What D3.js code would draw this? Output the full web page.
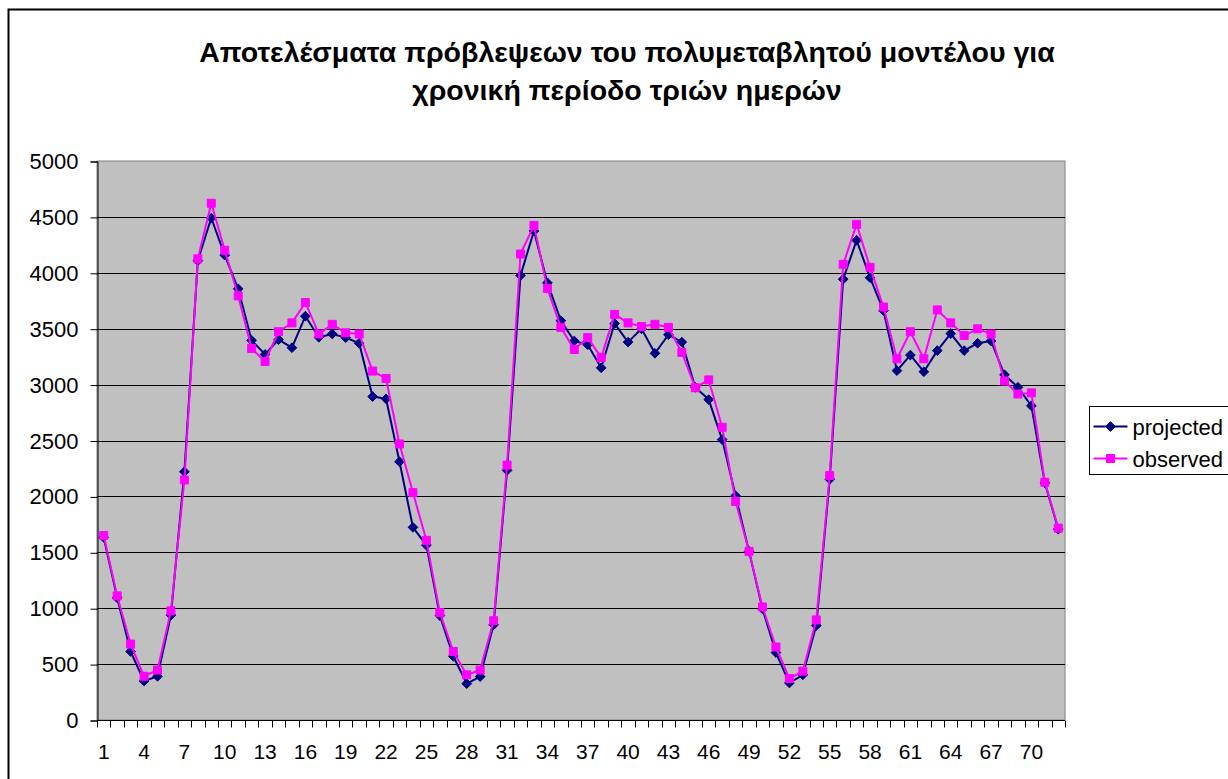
<!DOCTYPE html>
<html>
<head>
<meta charset="utf-8">
<script src="https://cdn.jsdelivr.net/npm/d3@7"></script>
<style>
  html, body { margin: 0; padding: 0; background: #ffffff; }
  svg { display: block; font-family: "Liberation Sans", Arial, sans-serif; }
</style>
</head>
<body>
<svg id="chart" width="1228" height="779"></svg>
<script>
// Forecast results of the multivariate model over three days (72 hourly steps)
const categories = d3.range(1, 73);

const projected = [
  1633, 1093, 613, 348, 391, 938, 2220, 4109, 4490, 4158,
  3857, 3396, 3270, 3403, 3330, 3612, 3423, 3453, 3420, 3370,
  2893, 2873, 2310, 1723, 1564, 934, 570, 325, 388, 852,
  2233, 3976, 4374, 3910, 3572, 3390, 3357, 3150, 3546, 3380,
  3499, 3280, 3446, 3380, 2976, 2866, 2508, 2005, 1508, 994,
  603, 331, 404, 845, 2154, 3943, 4291, 3956, 3661, 3125,
  3264, 3115, 3304, 3456, 3304, 3370, 3390, 3088, 2976, 2810,
  2121, 1707
];

const observed = [
  1650, 1110, 679, 391, 447, 977, 2147, 4125, 4622, 4202,
  3794, 3323, 3207, 3473, 3552, 3734, 3453, 3539, 3463, 3453,
  3121, 3055, 2469, 2034, 1607, 961, 613, 404, 447, 888,
  2280, 4168, 4424, 3860, 3512, 3314, 3420, 3241, 3628, 3552,
  3519, 3539, 3512, 3287, 2972, 3042, 2618, 1955, 1508, 1011,
  653, 371, 437, 895, 2187, 4076, 4433, 4049, 3694, 3231,
  3473, 3231, 3668, 3552, 3439, 3499, 3453, 3032, 2916, 2926,
  2127, 1716
];

const yTicks = [0, 500, 1000, 1500, 2000, 2500, 3000, 3500, 4000, 4500, 5000];
const xLabelEvery = 3;

const titleLines = [
  "Αποτελέσματα πρόβλεψεων του πολυμεταβλητού μοντέλου για",
  "χρονική περίοδο τριών ημερών"
];

const seriesList = [
  { name: "projected", values: projected, color: "#000080", marker: "diamond" },
  { name: "observed",  values: observed,  color: "#FF00FF", marker: "square" }
];

const svg = d3.select("#chart");
const plot = { left: 97, right: 1065, top: 161, bottom: 720 };

// outer chart frame
svg.append("rect")
  .attr("x", 8.5).attr("y", 9.5)
  .attr("width", 1240).attr("height", 800)
  .attr("fill", "#ffffff")
  .attr("stroke", "#000000").attr("stroke-width", 2);

// title
svg.append("g").selectAll("text")
  .data(titleLines)
  .join("text")
  .attr("x", 627)
  .attr("y", (d, i) => 62 + i * 38)
  .attr("text-anchor", "middle")
  .attr("font-size", 28.5)
  .attr("font-weight", "bold")
  .attr("fill", "#000000")
  .text(d => d);

const x = d3.scaleBand().domain(categories).range([plot.left, plot.right]).padding(0);
const y = d3.scaleLinear().domain([0, 5000]).range([plot.bottom, plot.top]);
const cx = d => x(d) + x.bandwidth() / 2;

// plot background
svg.append("rect")
  .attr("x", plot.left).attr("y", plot.top)
  .attr("width", plot.right - plot.left).attr("height", plot.bottom - plot.top)
  .attr("fill", "#C0C0C0")
  .attr("stroke", "#808080").attr("stroke-width", 1);

// horizontal gridlines
svg.append("g").selectAll("line")
  .data(yTicks.filter(t => t > 0 && t < 5000))
  .join("line")
  .attr("x1", plot.left).attr("x2", plot.right)
  .attr("y1", d => Math.round(y(d)) + 0.5).attr("y2", d => Math.round(y(d)) + 0.5)
  .attr("stroke", "#000000").attr("stroke-width", 1);

// y axis
const yAxis = d3.axisLeft(y).tickValues(yTicks).tickSize(7).tickPadding(12).tickFormat(d3.format("d"));
const gy = svg.append("g").attr("transform", `translate(${plot.left + 0.5},0.5)`).call(yAxis);
gy.select(".domain").attr("stroke", "#000000");
gy.selectAll(".tick line").attr("stroke", "#000000");
gy.selectAll(".tick text").attr("font-size", 22).attr("fill", "#000000")
  .attr("font-family", "'Liberation Sans', Arial, sans-serif");

// x axis: ticks at category boundaries, labels on every third category
const gx = svg.append("g").attr("transform", `translate(0,${plot.bottom + 0.5})`);
gx.append("line")
  .attr("x1", plot.left).attr("x2", plot.right)
  .attr("stroke", "#000000").attr("stroke-width", 1);
const boundaries = categories.map(c => x(c)).concat([x(categories[categories.length - 1]) + x.bandwidth()]);
gx.selectAll("line.tick")
  .data(boundaries)
  .join("line")
  .attr("class", "tick")
  .attr("x1", d => Math.round(d) + 0.5).attr("x2", d => Math.round(d) + 0.5)
  .attr("y1", 0).attr("y2", 7)
  .attr("stroke", "#000000");
gx.selectAll("text")
  .data(categories.filter((c, i) => i % xLabelEvery === 0))
  .join("text")
  .attr("x", d => cx(d))
  .attr("y", 38)
  .attr("text-anchor", "middle")
  .attr("font-size", 21)
  .attr("fill", "#000000")
  .text(d => d);

// marker shapes
const diamond = d3.symbol().type(d3.symbolDiamond2 || d3.symbolDiamond).size(60);
const square = d3.symbol().type(d3.symbolSquare).size(64);
const markerPath = m => (m === "diamond" ? diamond() : square());

const line = d3.line().x((v, i) => cx(categories[i])).y(v => y(v));

seriesList.forEach(s => {
  const g = svg.append("g").attr("class", "series-" + s.name);
  g.append("path")
    .datum(s.values)
    .attr("d", line)
    .attr("fill", "none")
    .attr("stroke", s.color)
    .attr("stroke-width", 2)
    .attr("stroke-linejoin", "round");
  g.selectAll("path.marker")
    .data(s.values)
    .join("path")
    .attr("class", "marker")
    .attr("d", markerPath(s.marker))
    .attr("transform", (v, i) => `translate(${cx(categories[i])},${y(v)})`)
    .attr("fill", s.color)
    .attr("stroke", s.color)
    .attr("stroke-width", 1);
});

// legend
const legend = svg.append("g").attr("transform", "translate(1089.5,406.5)");
legend.append("rect")
  .attr("width", 150).attr("height", 68)
  .attr("fill", "#ffffff")
  .attr("stroke", "#000000").attr("stroke-width", 1);
seriesList.forEach((s, i) => {
  const ly = 20 + i * 32;
  legend.append("line")
    .attr("x1", 4).attr("x2", 38)
    .attr("y1", ly).attr("y2", ly)
    .attr("stroke", s.color).attr("stroke-width", 2);
  legend.append("path")
    .attr("d", markerPath(s.marker))
    .attr("transform", `translate(21,${ly})`)
    .attr("fill", s.color).attr("stroke", s.color);
  legend.append("text")
    .attr("x", 43).attr("y", ly + 8)
    .attr("font-size", 22)
    .attr("fill", "#000000")
    .text(s.name);
});
</script>
</body>
</html>
